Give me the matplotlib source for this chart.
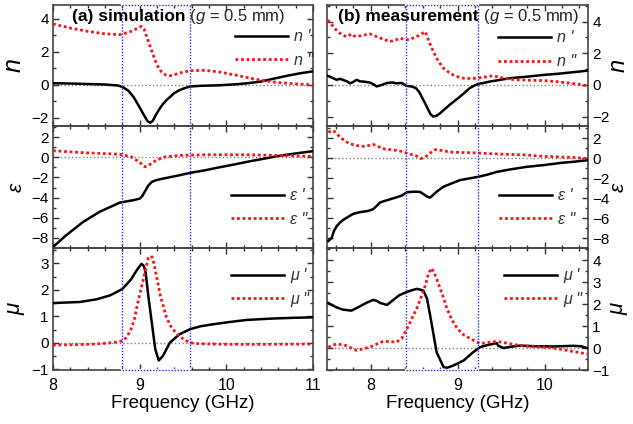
import matplotlib
matplotlib.use("Agg")
import matplotlib.pyplot as plt
from matplotlib.ticker import MultipleLocator
from matplotlib.lines import Line2D

plt.rcParams['font.family'] = ['Liberation Sans', 'DejaVu Sans']
plt.rcParams['mathtext.fontset'] = 'custom'
plt.rcParams['mathtext.rm'] = 'Liberation Sans'
plt.rcParams['mathtext.it'] = 'Liberation Sans:italic'

# ---- (a) simulation ----
sim_n_re_f = [8.0, 8.2, 8.4, 8.6, 8.75, 8.81, 8.87, 8.93, 9.0, 9.05, 9.09, 9.12, 9.15, 9.19,
              9.23, 9.27, 9.31, 9.35, 9.4, 9.46, 9.52, 9.58, 9.7, 9.9, 10.1, 10.25, 10.4,
              10.55, 10.7, 10.85, 11.0]
sim_n_re = [0.10, 0.08, 0.05, 0.02, -0.04, -0.15, -0.36, -0.74, -1.37, -1.85, -2.2, -2.3,
            -2.2, -1.8, -1.45, -1.16, -0.92, -0.74, -0.5, -0.32, -0.2, -0.1, -0.06, -0.03,
            0.03, 0.1, 0.2, 0.38, 0.55, 0.7, 0.82]
sim_n_im_f = [8.0, 8.2, 8.4, 8.6, 8.77, 8.88, 8.96, 9.02, 9.05, 9.08, 9.12, 9.16, 9.2, 9.25,
              9.3, 9.35, 9.42, 9.5, 9.6, 9.75, 9.9, 10.1, 10.3, 10.45, 10.6, 10.8, 11.0]
sim_n_im = [3.7, 3.45, 3.25, 3.1, 3.05, 3.2, 3.4, 3.55, 3.4, 2.95, 2.35, 1.75, 1.2, 0.8, 0.6,
            0.55, 0.65, 0.78, 0.86, 0.88, 0.8, 0.6, 0.38, 0.24, 0.14, 0.06, 0.0]

sim_eps_re_f = [8.0, 8.15, 8.35, 8.54, 8.77, 8.93, 9.0, 9.03, 9.06, 9.1, 9.14, 9.18, 9.25,
                9.31, 9.45, 9.58, 9.75, 9.89, 10.1, 10.27, 10.45, 10.58, 10.8, 11.0]
sim_eps_re = [-8.9, -7.75, -6.4, -5.4, -4.5, -4.25, -4.1, -3.85, -3.4, -2.8, -2.45, -2.3,
              -2.15, -2.05, -1.8, -1.55, -1.3, -1.05, -0.7, -0.4, -0.12, 0.1, 0.38, 0.6]
sim_eps_im_f = [8.0, 8.35, 8.77, 8.9, 9.0, 9.06, 9.12, 9.2, 9.3, 9.5, 9.8, 10.2, 10.6, 11.0]
sim_eps_im = [0.65, 0.45, 0.3, 0.05, -0.5, -0.95, -0.7, -0.25, 0.05, 0.2, 0.25, 0.25, 0.18,
              0.08]

sim_mu_re_f = [8.0, 8.31, 8.5, 8.66, 8.8, 8.9, 8.97, 9.02, 9.05, 9.07, 9.1, 9.14, 9.18, 9.22,
               9.27, 9.35, 9.46, 9.58, 9.7, 9.85, 10.03, 10.23, 10.5, 10.75, 11.0]
sim_mu_re = [1.5, 1.54, 1.64, 1.79, 2.03, 2.39, 2.76, 2.98, 2.9, 2.63, 1.76, 0.76, -0.24,
             -0.67, -0.49, 0.01, 0.32, 0.51, 0.62, 0.7, 0.78, 0.86, 0.91, 0.94, 0.96]
sim_mu_im_f = [8.0, 8.3, 8.5, 8.7, 8.8, 8.85, 8.9, 8.94, 8.97, 9.01, 9.05, 9.1, 9.13, 9.15,
               9.18, 9.21, 9.24, 9.28, 9.31, 9.36, 9.43, 9.5, 9.58, 9.7, 10.0, 10.5, 11.0]
sim_mu_im = [-0.09, -0.07, -0.05, 0.01, 0.07, 0.2, 0.51, 0.9, 1.39, 1.95, 2.51, 3.2, 3.28,
             3.2, 2.76, 2.25, 1.76, 1.3, 0.95, 0.62, 0.32, 0.15, 0.0, -0.04, -0.06, -0.06,
             -0.05]

# ---- (b) measurement ----
meas_n_re_f = [7.51, 7.56, 7.61, 7.65, 7.69, 7.73, 7.765, 7.8, 7.84, 7.88, 7.92, 7.99, 8.03,
               8.07, 8.12, 8.19, 8.25, 8.3, 8.36, 8.41, 8.47, 8.52, 8.56, 8.607, 8.64, 8.664,
               8.69, 8.72, 8.76, 8.8, 8.85, 8.91, 8.97, 9.03, 9.09, 9.14, 9.19, 9.24, 9.3,
               9.37, 9.45, 9.6, 9.8, 9.99, 10.15, 10.29, 10.4, 10.49]
meas_n_re = [0.57, 0.45, 0.32, 0.38, 0.3, 0.22, 0.1, 0.18, 0.32, 0.22, 0.21, 0.15, 0.05, -0.1,
             -0.02, 0.12, 0.15, 0.1, 0.12, -0.06, -0.1, -0.2, -0.45, -0.95, -1.3, -1.58,
             -1.85, -2.0, -1.95, -1.79, -1.55, -1.26, -1.0, -0.74, -0.45, -0.21, -0.05, 0.06,
             0.12, 0.21, 0.28, 0.42, 0.52, 0.63, 0.7, 0.78, 0.84, 0.9]
meas_n_im_f = [7.51, 7.54, 7.573, 7.61, 7.65, 7.69, 7.73, 7.76, 7.784, 7.81, 7.84, 7.9, 7.95,
               7.99, 8.03, 8.07, 8.14, 8.22, 8.28, 8.34, 8.41, 8.47, 8.53, 8.58, 8.63, 8.68,
               8.72, 8.76, 8.8, 8.84, 8.9, 8.95, 9.01, 9.07, 9.15, 9.22, 9.3, 9.36, 9.41,
               9.47, 9.53, 9.6, 9.68, 9.8, 9.99, 10.15, 10.3, 10.42, 10.49]
meas_n_im = [4.1, 3.9, 3.68, 3.45, 3.26, 3.12, 3.05, 3.15, 3.22, 3.1, 3.05, 3.12, 3.18, 3.22,
             3.15, 3.05, 2.9, 2.74, 2.82, 2.95, 2.84, 2.92, 3.05, 3.2, 3.37, 2.63, 2.15,
             1.68, 1.35, 1.05, 0.8, 0.63, 0.5, 0.42, 0.4, 0.42, 0.48, 0.55, 0.57, 0.5, 0.42,
             0.36, 0.32, 0.3, 0.27, 0.2, 0.1, 0.02, -0.06]

meas_eps_re_f = [7.515, 7.553, 7.58, 7.61, 7.65, 7.688, 7.74, 7.8, 7.86, 7.918, 7.97, 8.03,
                 8.07, 8.109, 8.16, 8.224, 8.3, 8.36, 8.416, 8.47, 8.53, 8.57, 8.607, 8.65,
                 8.684, 8.72, 8.76, 8.837, 8.93, 9.03, 9.13, 9.24, 9.35, 9.45, 9.6, 9.79,
                 10.0, 10.18, 10.35, 10.49]
meas_eps_re = [-8.3, -8.0, -7.3, -6.83, -6.45, -6.18, -5.9, -5.59, -5.45, -5.36, -5.3, -5.12,
               -4.8, -4.45, -4.3, -4.13, -3.93, -3.75, -3.44, -3.38, -3.37, -3.4, -3.6,
               -3.85, -3.96, -3.7, -3.37, -2.88, -2.55, -2.21, -2.05, -1.88, -1.65, -1.39,
               -1.15, -0.89, -0.7, -0.5, -0.36, -0.23]
meas_eps_im_f = [7.515, 7.553, 7.573, 7.61, 7.65, 7.7, 7.76, 7.84, 7.92, 7.98, 8.03, 8.08,
                 8.14, 8.22, 8.3, 8.36, 8.41, 8.49, 8.53, 8.58, 8.62, 8.66, 8.7, 8.74, 8.8,
                 8.91, 9.05, 9.24, 9.4, 9.6, 9.8, 9.99, 10.2, 10.35, 10.49]
meas_eps_im = [2.58, 2.7, 2.75, 2.45, 2.08, 1.75, 1.42, 1.25, 1.16, 1.25, 1.36, 1.2, 0.93,
               0.85, 0.76, 0.65, 0.5, 0.3, 0.2, -0.06, 0.1, 0.26, 0.6, 0.83, 0.78, 0.6, 0.55,
               0.5, 0.42, 0.36, 0.3, 0.16, 0.1, 0.05, -0.07]

meas_mu_re_f = [7.515, 7.56, 7.61, 7.68, 7.78, 7.88, 7.95, 8.03, 8.07, 8.11, 8.19, 8.26, 8.33,
                8.41, 8.47, 8.53, 8.58, 8.61, 8.65, 8.70, 8.76, 8.84, 8.88, 8.95, 9.07, 9.18,
                9.26, 9.33, 9.41, 9.45, 9.47, 9.53, 9.6, 9.72, 9.9, 10.1, 10.33, 10.42, 10.49]
meas_mu_re = [2.05, 1.95, 1.85, 1.75, 1.7, 1.9, 2.05, 2.19, 2.15, 2.05, 1.96, 2.18, 2.4, 2.54,
              2.62, 2.69, 2.65, 2.6, 2.24, 1.17, -0.19, -0.87, -0.9, -0.8, -0.57, -0.19,
              0.04, 0.12, 0.19, 0.22, 0.1, 0.0, 0.05, 0.11, 0.08, 0.07, 0.1, 0.08, 0.0]
meas_mu_im_f = [7.515, 7.61, 7.72, 7.84, 7.99, 8.15, 8.3, 8.36, 8.42, 8.47, 8.53, 8.58, 8.63,
                8.66, 8.70, 8.73, 8.76, 8.82, 8.88, 8.94, 9.0, 9.07, 9.15, 9.26, 9.45, 9.72,
                10.1, 10.49]
meas_mu_im = [0.04, 0.19, 0.11, -0.11, 0.04, 0.31, 0.27, 0.45, 0.87, 1.3, 1.78, 2.3, 2.84,
              3.3, 3.63, 3.45, 3.14, 2.5, 1.78, 1.25, 0.87, 0.6, 0.42, 0.2, 0.3, 0.11, 0.0,
              -0.27]

panels = [
    dict(tag="(a) simulation", xlim=(8, 11), band=(8.8, 9.58), side="left", title_x=0.073,
         rows=[
             dict(sym="n", re=(sim_n_re_f, sim_n_re), im=(sim_n_im_f, sim_n_im),
                  ylim=(-2.5, 4.85), major=2, minor=1, lab=18, leg=(0.70, 0.80)),
             dict(sym="ε", re=(sim_eps_re_f, sim_eps_re), im=(sim_eps_im_f, sim_eps_im),
                  ylim=(-9, 3.1), major=2, minor=1, lab=15, leg=(0.685, 0.49)),
             dict(sym="μ", re=(sim_mu_re_f, sim_mu_re), im=(sim_mu_im_f, sim_mu_im),
                  ylim=(-1.03, 3.58), major=1, minor=0.5, lab=16, leg=(0.685, 0.835)),
         ]),
    dict(tag="(b) measurement", xlim=(7.5, 10.5), band=(8.41, 9.24), side="right", title_x=0.042,
         rows=[
             dict(sym="n", re=(meas_n_re_f, meas_n_re), im=(meas_n_im_f, meas_n_im),
                  ylim=(-2.6, 5.05), major=2, minor=1, lab=17, leg=(0.655, 0.79)),
             dict(sym="ε", re=(meas_eps_re_f, meas_eps_re), im=(meas_eps_im_f, meas_eps_im),
                  ylim=(-9, 3.2), major=2, minor=1, lab=15, leg=(0.66, 0.49)),
             dict(sym="μ", re=(meas_mu_re_f, meas_mu_re), im=(meas_mu_im_f, meas_mu_im),
                  ylim=(-1.0, 4.55), major=1, minor=0.5, lab=16, leg=(0.68, 0.835)),
         ]),
]

fig = plt.figure(figsize=(6.33, 4.24), dpi=100)
lefts = [53 / 633, 327 / 633]
widths = [260 / 633, 261 / 633]
row_px = [(5, 126), (126, 248), (248, 370)]

red = "#ff1010"
for p, left, width in zip(panels, lefts, widths):
    for i, (row, (top, bot)) in enumerate(zip(p["rows"], row_px)):
        ax = fig.add_axes([left, 1 - bot / 424, width, (bot - top) / 424])
        ax.patch.set_visible(False)
        ax.axhline(0, color="gray", ls=":", lw=1, zorder=1)
        ax.plot(*row["re"], color="black", lw=1.8, zorder=3)
        ax.plot(*row["im"], color=red, lw=2.0, ls=(0, (1, 1)), zorder=3)
        ax.set_xlim(*p["xlim"])
        ax.set_ylim(*row["ylim"])
        ax.xaxis.set_major_locator(MultipleLocator(1))
        ax.xaxis.set_minor_locator(MultipleLocator(0.2))
        ax.yaxis.set_major_locator(MultipleLocator(row["major"]))
        ax.yaxis.set_minor_locator(MultipleLocator(row["minor"]))
        ax.tick_params(which="both", direction="in", top=True, right=True, left=True,
                       bottom=True, width=1, colors="#333333", labelcolor="black")
        ax.tick_params(which="major", length=4.5)
        ax.tick_params(which="minor", length=2.5)
        ax.tick_params(axis="y", labelsize=11, pad=3)
        ax.tick_params(axis="x", labelsize=11.5, pad=6)
        for s in ax.spines.values():
            s.set_linewidth(1.2)
            s.set_color("#444444")
        if i < 2:
            ax.tick_params(labelbottom=False)
        else:
            ax.set_xlabel("Frequency (GHz)", fontsize=13.5, labelpad=1)
        if p["side"] == "right":
            ax.tick_params(labelleft=False, labelright=True)
            # axis name on the right, centred just outside the tick labels
            ax.text(1.115, 0.5, row["sym"], transform=ax.transAxes, rotation=90,
                    ha="center", va="center", fontsize=row["lab"], style="italic")
        else:
            ax.set_ylabel(row["sym"], fontsize=row["lab"], style="italic")
            ax.yaxis.set_label_coords(-0.105, 0.5)

        # blue dotted band
        b1, b2 = p["band"]
        for b in (b1, b2):
            ax.axvline(b, color="#2a2aff", lw=1, ls=(0, (1, 1.2)), zorder=4)
        if i in (0, 2):
            yy = 1 if i == 0 else 0
            ax.plot([b1, b2], [yy, yy], color="white", lw=1.6, transform=ax.get_xaxis_transform(),
                    clip_on=False, zorder=5)
            ax.plot([b1, b2], [yy, yy], color="#2a2aff", lw=1, ls=(0, (1, 1.2)),
                    transform=ax.get_xaxis_transform(), clip_on=False, zorder=6)

        handles = [Line2D([], [], color="black", lw=1.8),
                   Line2D([], [], color=red, lw=2.0, ls=(0, (1, 1)))]
        labels = [row["sym"] + " '", row["sym"] + ' "']
        leg = ax.legend(handles, labels, loc="upper left", bbox_to_anchor=row["leg"],
                        frameon=False, handlelength=3.3, handletextpad=0.4, borderpad=0,
                        borderaxespad=0, labelspacing=0.55,
                        prop=dict(family="Liberation Sans", style="italic", size=11.5))
        for t in leg.get_texts():
            t.set_color("#333333")

        if i == 0:
            t1 = ax.text(p["title_x"], 0.905, p["tag"], transform=ax.transAxes, fontsize=12.5,
                         fontweight="bold", va="center", ha="left")
            ax.annotate(r" ($\mathit{g}$ = 0.5 mm)", xy=(1, 0.5), xycoords=t1,
                        va="center", ha="left", fontsize=12, color="#222222")

fig.savefig("out.png", dpi=100)
